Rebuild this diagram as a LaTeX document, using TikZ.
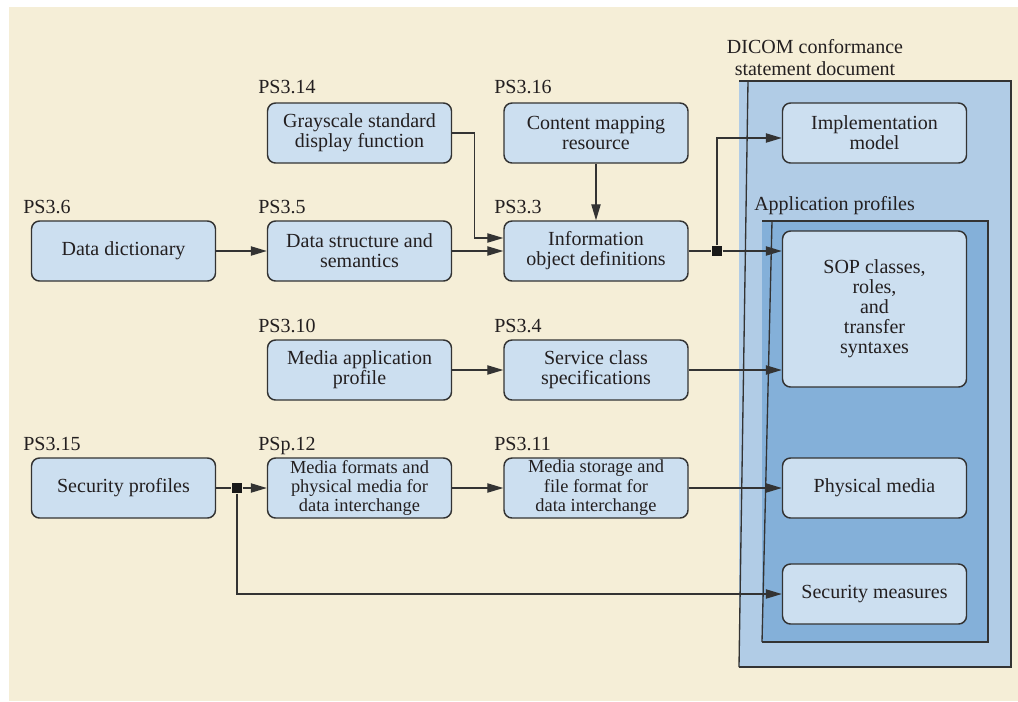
\documentclass[tikz,border=0pt]{standalone}
\usepackage{fontspec}
\setmainfont{Liberation Serif}
\usetikzlibrary{arrows.meta}
\definecolor{paper}{HTML}{F5EED7}
\definecolor{boxfill}{HTML}{CCDFF0}
\definecolor{outerfill}{HTML}{B1CCE6}
\definecolor{innerfill}{HTML}{84B0D9}
\definecolor{ink}{HTML}{333333}
\definecolor{txt}{HTML}{231F20}
\tikzset{
  part/.style={draw=ink, line width=1.1pt, fill=boxfill, rounded corners=6pt,
    minimum width=138pt, minimum height=45pt, inner sep=0pt, align=center,
    text=txt, font=\fontsize{15}{15}\selectfont},
  smallpart/.style={part, font=\fontsize{13.8}{14.6}\selectfont},
  tag/.style={anchor=base west, inner sep=0pt, text=txt, font=\fontsize{15}{15}\selectfont},
  arr/.style={draw=ink, line width=0.9pt, -{Triangle[length=12pt,width=7pt]}},
  link/.style={draw=ink, line width=0.9pt},
  junction/.style={fill=black!90, minimum size=8pt, inner sep=0pt},
  frame/.style={draw=ink, line width=1pt}
}
\begin{document}
\begin{tikzpicture}[x=0.75pt,y=-0.75pt]
\useasboundingbox (0,0) rectangle (1018,701);
\fill[white] (0,0) rectangle (1018,701);
\fill[paper] (9,7) rectangle (1018,701);

% DICOM conformance statement document container
\fill[outerfill] (739,81) rectangle (1011,667);
\draw[frame] (739,81) -- (1011,81) -- (1011,667) -- (739,667);
\draw[frame] (748,81) -- (739,667);
\node[anchor=base, align=center, inner sep=0pt, text=txt,
      font=\fontsize{15}{16.5}\selectfont] (dcs) at (815,75)
  {DICOM conformance\\statement document};

% Application profiles container
\fill[innerfill] (762,221) rectangle (988,642);
\draw[frame] (762,221) -- (988,221) -- (988,642) -- (762,642);
\draw[frame] (772,221) -- (762,642);
\node[tag] (ap) at (754,210) {Application profiles};

% Parts of the standard
\node[part] (gs)  at (359.5,133) {Grayscale standard\\display function};
\node[part] (cm)  at (596,133)   {Content mapping\\resource};
\node[part] (dd)  at (123.5,251) {Data dictionary};
\node[part] (ds)  at (359.5,251) {Data structure and\\semantics};
\node[part] (iod) at (596,251)   {Information\\object definitions};
\node[part] (map) at (359.5,370) {Media application\\profile};
\node[part] (scs) at (596,370)   {Service class\\specifications};
\node[part] (sp)  at (123.5,488) {Security profiles};
\node[smallpart] (mf) at (359.5,488) {Media formats and\\physical media for\\data interchange};
\node[smallpart] (ms) at (596,488)   {Media storage and\\file format for\\data interchange};

% Contents of the conformance statement
\node[part] (im)  at (874.5,133) {Implementation\\model};
\node[part, minimum height=117pt] (sop) at (874.5,309)
  {SOP classes,\\roles,\\and\\transfer\\syntaxes};
\node[part] (pm)  at (874.5,488) {Physical media};
\node[part] (sm)  at (874.5,594) {Security measures};

% Part numbers
\node[tag] (t14) at (258,93)  {PS3.14};
\node[tag] (t16) at (494,93)  {PS3.16};
\node[tag] (t6)  at (23,213)  {PS3.6};
\node[tag] (t5)  at (258,213) {PS3.5};
\node[tag] (t3)  at (494,213) {PS3.3};
\node[tag] (t10) at (258,332) {PS3.10};
\node[tag] (t4)  at (494,332) {PS3.4};
\node[tag] (t15) at (23,450)  {PS3.15};
\node[tag] (t12) at (258,450) {PSp.12};
\node[tag] (t11) at (494,450) {PS3.11};

% Junctions
\node[junction] (j1) at (717,251) {};
\node[junction] (j2) at (237,488) {};

% Connectors
\draw[arr] (gs.east) -- ++(22,0) |- ([yshift=9.75pt]iod.west);
\draw[arr] (dd) -- (ds);
\draw[arr] (ds) -- (iod);
\draw[arr] (cm) -- (iod);
\draw[link] (iod) -- (j1);
\draw[arr] (j1) -- (j1 -| sop.west);
\draw[arr] (j1) |- ([yshift=-3.75pt]im.west);
\draw[arr] (map) -- (scs);
\draw[arr] (scs.east) -- (scs.east -| sop.west);
\draw[link] (sp) -- (j2);
\draw[arr] (j2) -- (mf);
\draw[arr] (mf) -- (ms);
\draw[arr] (ms) -- (pm);
\draw[arr] (j2) |- (sm.west);
\end{tikzpicture}
\end{document}
